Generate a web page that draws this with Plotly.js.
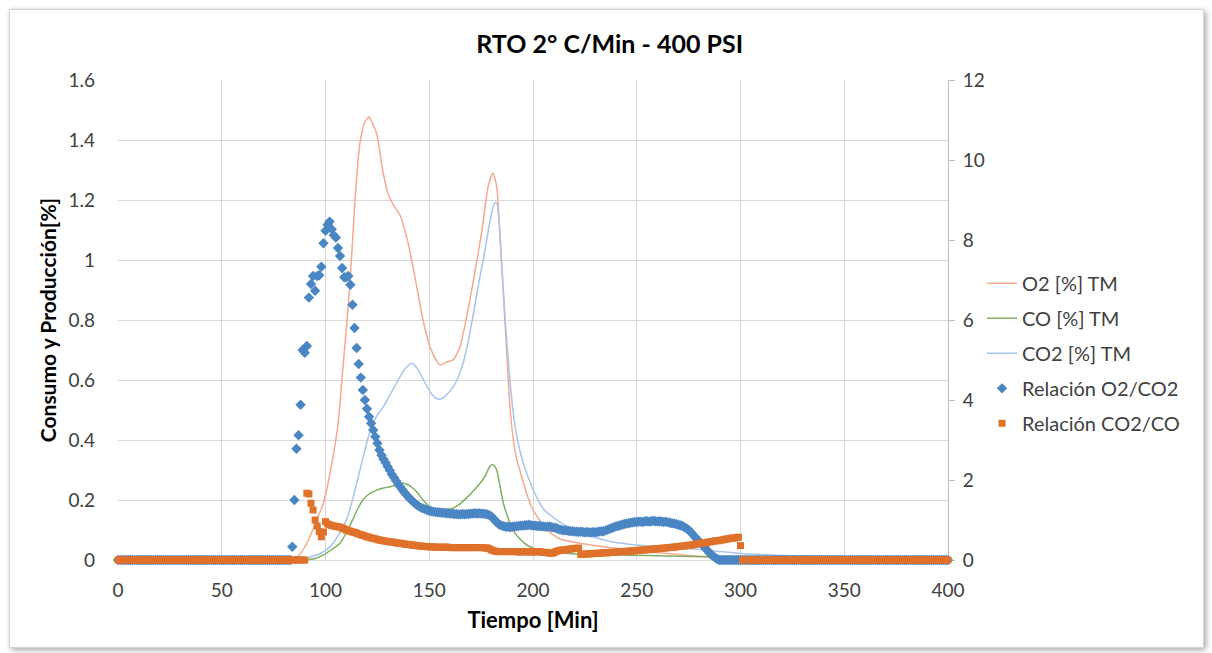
<!DOCTYPE html>
<html>
<head>
<meta charset="utf-8">
<script src="https://cdn.plot.ly/plotly-3.0.1.min.js"></script>
<style>
  html, body { margin: 0; padding: 0; background: #ffffff; }
  #frame { position: absolute; left: 9px; top: 9px; width: 1193px; height: 637px;
           border: 1px solid #d4d4d4; box-shadow: 2px 2px 6px rgba(0,0,0,0.35); background: #ffffff; }
  #chart { position: absolute; left: 0; top: 0; width: 1212px; height: 653px; }
</style>
</head>
<body>
<div id="frame"></div>
<div id="chart"></div>
<script>
// Time [Min] for the ratio series (one point per minute)
const tiempo = [
0,1,2,3,4,5,6,7,8,9,10,11,12,13,14,15,16,17,18,19,20,21,22,23,24,25,26,27,28,29,
30,31,32,33,34,35,36,37,38,39,40,41,42,43,44,45,46,47,48,49,50,51,52,53,54,55,56,57,58,59,
60,61,62,63,64,65,66,67,68,69,70,71,72,73,74,75,76,77,78,79,80,81,82,83,84,85,86,87,88,89,
90,91,92,93,94,95,96,97,98,99,100,101,102,103,104,105,106,107,108,109,110,111,112,113,114,115,116,117,118,119,
120,121,122,123,124,125,126,127,128,129,130,131,132,133,134,135,136,137,138,139,140,141,142,143,144,145,146,147,148,149,
150,151,152,153,154,155,156,157,158,159,160,161,162,163,164,165,166,167,168,169,170,171,172,173,174,175,176,177,178,179,
180,181,182,183,184,185,186,187,188,189,190,191,192,193,194,195,196,197,198,199,200,201,202,203,204,205,206,207,208,209,
210,211,212,213,214,215,216,217,218,219,220,221,222,223,224,225,226,227,228,229,230,231,232,233,234,235,236,237,238,239,
240,241,242,243,244,245,246,247,248,249,250,251,252,253,254,255,256,257,258,259,260,261,262,263,264,265,266,267,268,269,
270,271,272,273,274,275,276,277,278,279,280,281,282,283,284,285,286,287,288,289,290,291,292,293,294,295,296,297,298,299,
300,301,302,303,304,305,306,307,308,309,310,311,312,313,314,315,316,317,318,319,320,321,322,323,324,325,326,327,328,329,
330,331,332,333,334,335,336,337,338,339,340,341,342,343,344,345,346,347,348,349,350,351,352,353,354,355,356,357,358,359,
360,361,362,363,364,365,366,367,368,369,370,371,372,373,374,375,376,377,378,379,380,381,382,383,384,385,386,387,388,389,
390,391,392,393,394,395,396,397,398,399,400];

// Relación O2/CO2 (secondary axis)
const relO2CO2 = [
0,0,0,0,0,0,0,0,0,0, 0,0,0,0,0,0,0,0,0,0, 0,0,0,0,0,0,0,0,0,0, 0,0,0,0,0,0,0,0,0,0,
0,0,0,0,0,0,0,0,0,0, 0,0,0,0,0,0,0,0,0,0, 0,0,0,0,0,0,0,0,0,0, 0,0,0,0,0,0,0,0,0,0,
0,0,0,0,0.33,1.5,2.78,3.12,3.88,5.25,
5.18,5.35,6.56,6.9,7.1,6.73,7.1,7.12,7.33,7.92,
8.23,8.38,8.46,8.27,8.12,8.06,7.8,7.6,7.3,7.07,
7.07,7.1,6.88,6.38,5.8,5.3,4.9,4.56,4.25,4.0,
3.78,3.58,3.42,3.25,3.08,2.92,2.75,2.62,2.52,2.43,
2.33,2.24,2.14,2.06,1.98,1.9,1.83,1.76,1.69,1.63,
1.57,1.52,1.47,1.42,1.38,1.34,1.31,1.29,1.27,1.25,
1.23,1.22,1.21,1.2,1.19,1.19,1.18,1.18,1.17,1.17,
1.16,1.16,1.15,1.15,1.14,1.14,1.15,1.14,1.15,1.15,
1.16,1.16,1.17,1.16,1.17,1.16,1.16,1.15,1.14,1.12,
1.09,1.03,0.97,0.92,0.88,0.86,0.84,0.83,0.83,0.82,
0.83,0.84,0.84,0.85,0.86,0.86,0.87,0.87,0.88,0.87,
0.86,0.86,0.85,0.85,0.84,0.84,0.83,0.83,0.84,0.82,
0.81,0.80,0.78,0.76,0.75,0.74,0.74,0.73,0.72,0.72,
0.71,0.71,0.70,0.71,0.70,0.69,0.70,0.69,0.69,0.70,
0.69,0.70,0.71,0.72,0.72,0.74,0.76,0.78,0.80,0.82,
0.84,0.85,0.87,0.88,0.90,0.91,0.92,0.93,0.94,0.95,
0.95,0.96,0.96,0.95,0.97,0.97,0.96,0.97,0.98,0.97,
0.96,0.97,0.96,0.95,0.96,0.94,0.93,0.92,0.91,0.90,
0.88,0.87,0.85,0.82,0.79,0.75,0.70,0.64,0.58,0.52,
0.47,0.42,0.36,0.30,0.24,0.18,0.13,0.09,0.05,0.02,
0,0,0,0,0,0,0,0,0,0,
0,0,0,0,0,0,0,0,0,0, 0,0,0,0,0,0,0,0,0,0, 0,0,0,0,0,0,0,0,0,0, 0,0,0,0,0,0,0,0,0,0,
0,0,0,0,0,0,0,0,0,0, 0,0,0,0,0,0,0,0,0,0, 0,0,0,0,0,0,0,0,0,0, 0,0,0,0,0,0,0,0,0,0,
0,0,0,0,0,0,0,0,0,0, 0,0,0,0,0,0,0,0,0,0, 0];

// Relación CO2/CO (secondary axis)
const relCO2CO = [
0,0,0,0,0,0,0,0,0,0, 0,0,0,0,0,0,0,0,0,0, 0,0,0,0,0,0,0,0,0,0, 0,0,0,0,0,0,0,0,0,0,
0,0,0,0,0,0,0,0,0,0, 0,0,0,0,0,0,0,0,0,0, 0,0,0,0,0,0,0,0,0,0, 0,0,0,0,0,0,0,0,0,0,
0,0,0,0,0,0,0,0,0,0,
0,1.67,1.65,1.42,1.25,1.0,0.85,0.71,0.58,0.70,
0.96,0.90,0.88,0.86,0.85,0.84,0.83,0.82,0.80,0.78,
0.75,0.73,0.72,0.70,0.69,0.67,0.65,0.63,0.62,0.60,
0.58,0.57,0.55,0.54,0.53,0.51,0.50,0.49,0.48,0.47,
0.46,0.45,0.45,0.44,0.43,0.42,0.42,0.41,0.40,0.39,
0.39,0.38,0.37,0.37,0.36,0.35,0.35,0.34,0.34,0.33,
0.33,0.33,0.33,0.32,0.32,0.32,0.32,0.32,0.32,0.32,
0.31,0.31,0.31,0.31,0.31,0.31,0.31,0.31,0.31,0.31,
0.31,0.31,0.31,0.31,0.31,0.31,0.31,0.30,0.30,0.28,
0.25,0.23,0.22,0.21,0.21,0.21,0.21,0.21,0.21,0.21,
0.21,0.21,0.21,0.20,0.20,0.21,0.21,0.20,0.20,0.21,
0.20,0.20,0.21,0.21,0.20,0.19,0.19,0.18,0.17,0.17,
0.18,0.21,0.23,0.24,0.25,0.25,0.26,0.27,0.27,0.28,
0.29,0.29,0.30,0.14,0.14,0.15,0.15,0.15,0.16,0.16,
0.16,0.17,0.17,0.17,0.18,0.18,0.18,0.19,0.19,0.19,
0.20,0.20,0.21,0.21,0.21,0.22,0.22,0.22,0.23,0.23,
0.24,0.24,0.25,0.25,0.25,0.26,0.26,0.27,0.27,0.28,
0.28,0.29,0.29,0.30,0.30,0.31,0.31,0.32,0.32,0.33,
0.34,0.34,0.35,0.35,0.36,0.37,0.37,0.38,0.39,0.40,
0.41,0.42,0.43,0.43,0.44,0.45,0.46,0.47,0.48,0.48,
0.49,0.50,0.51,0.52,0.53,0.54,0.55,0.55,0.56,0.57,
0.36,
0,0,0,0,0,0,0,0,0,0, 0,0,0,0,0,0,0,0,0,0, 0,0,0,0,0,0,0,0,0,0, 0,0,0,0,0,0,0,0,0,0,
0,0,0,0,0,0,0,0,0,0, 0,0,0,0,0,0,0,0,0,0, 0,0,0,0,0,0,0,0,0,0, 0,0,0,0,0,0,0,0,0,0,
0,0,0,0,0,0,0,0,0,0, 0,0,0,0,0,0,0,0,0,0];

// O2 [%] TM
const tO2 = [0,80,85,88,92,95,99,103,106,108.4,111.8,114.2,116.6,119,121,123,124.7,127.8,130.2,133,135.9,139.8,144,147,150.4,153,155.2,158.4,161.5,164.8,168,171,175.2,178.4,180.6,182.5,184.9,187.3,188.5,190,192,194,197,200,206.7,213,222.6,238.7,254.8,270,280,290,300];
const o2 = [0,0,0.005,0.022,0.07,0.12,0.19,0.32,0.45,0.64,0.92,1.2,1.39,1.46,1.477,1.45,1.42,1.29,1.22,1.18,1.15,1.057,0.91,0.80,0.71,0.67,0.65,0.66,0.667,0.71,0.81,0.92,1.09,1.245,1.29,1.245,0.98,0.70,0.55,0.43,0.34,0.29,0.22,0.167,0.10,0.07,0.056,0.04,0.028,0.018,0.012,0.004,0.002];

// CO [%] TM
const tCO = [0,90,95,99,103,107,110,113,115.5,118,121,124.7,128,131,134,137.4,140,142,144,147,150.4,153,155.2,158,161.5,165,168,171,174.5,177,179,180,181,182.5,184,185.7,188,190.4,193,197,201,206.7,220,238.6,260,280,300];
const co = [0,0,0.005,0.017,0.035,0.056,0.09,0.133,0.17,0.2,0.22,0.233,0.24,0.244,0.25,0.256,0.25,0.24,0.227,0.2,0.177,0.168,0.167,0.168,0.173,0.188,0.207,0.228,0.256,0.28,0.31,0.317,0.316,0.30,0.25,0.19,0.14,0.10,0.075,0.05,0.037,0.028,0.02,0.017,0.014,0.012,0.012];

// CO2 [%] TM
const tCO2 = [0,88,92.5,97,102,106,110,113,116.6,119.5,122.3,124.7,127.8,131,134.3,138,141.5,143.5,145.5,148,150.4,153,155.2,158,161.5,164,166.3,168.5,171,173.5,176,178,180,181.5,182.5,184,186.5,188.5,190.5,192.5,195,198,201,205,211.6,217,222.6,230,238.6,250,262.7,280.5,290,300,320,340,357,360];
const co2 = [0,0,0.01,0.02,0.043,0.08,0.133,0.2,0.30,0.38,0.45,0.48,0.51,0.55,0.59,0.635,0.656,0.645,0.623,0.59,0.56,0.54,0.536,0.548,0.577,0.61,0.656,0.72,0.81,0.91,1.0,1.08,1.155,1.19,1.19,1.09,0.81,0.63,0.49,0.40,0.33,0.27,0.22,0.17,0.133,0.11,0.09,0.075,0.06,0.05,0.043,0.035,0.028,0.022,0.015,0.012,0.01,0.008];

const FONT = 'Lato, "Open Sans", sans-serif';

const traces = [
  { x: tO2, y: o2, name: 'O2 [%] TM', type: 'scatter', mode: 'lines', line: { color: '#f7a98c', width: 1.5, shape: 'spline', smoothing: 0.6 }, legendgroup: 'a' },
  { x: tCO, y: co, name: 'CO [%] TM', type: 'scatter', mode: 'lines', line: { color: '#7fb062', width: 1.5, shape: 'spline', smoothing: 0.6 }, legendgroup: 'b' },
  { x: tCO2, y: co2, name: 'CO2 [%] TM', type: 'scatter', mode: 'lines', line: { color: '#a9c5ec', width: 1.5, shape: 'spline', smoothing: 0.6 }, legendgroup: 'c' },
  { x: tiempo, y: relO2CO2, name: 'Relación O2/CO2', type: 'scatter', mode: 'markers', yaxis: 'y2', cliponaxis: false,
    marker: { symbol: 'diamond', size: 8, color: '#4a86c3', line: { width: 0 } }, legendgroup: 'd' },
  { x: tiempo, y: relCO2CO, name: 'Relación CO2/CO', type: 'scatter', mode: 'markers', yaxis: 'y2', cliponaxis: false,
    marker: { symbol: 'square', size: 7, color: '#e0712a', line: { width: 0 } }, legendgroup: 'e' }
];

const layout = {
  width: 1212, height: 653,
  paper_bgcolor: 'rgba(0,0,0,0)', plot_bgcolor: 'rgba(0,0,0,0)',
  margin: { l: 118, r: 264, t: 80, b: 93 },
  font: { family: FONT, size: 19, color: '#404040' },
  title: { text: 'RTO 2° C/Min - 400 PSI', font: { family: FONT, size: 25, color: '#000000', weight: 'bold' },
           x: 0.503, xref: 'container', xanchor: 'center', y: 0.933, yref: 'container', yanchor: 'middle' },
  xaxis: {
    range: [0, 400], dtick: 50, tick0: 0, showgrid: true, gridcolor: '#d9d9d9', gridwidth: 1,
    zeroline: false, showline: true, linecolor: '#d9d9d9', layer: 'below traces', ticks: '', ticklabelstandoff: 13,
    tickfont: { family: FONT, size: 19, color: '#404040' },
    title: { text: 'Tiempo [Min]', font: { family: FONT, size: 22, color: '#000000', weight: 'bold' }, standoff: 12 }
  },
  yaxis: {
    range: [0, 1.6], dtick: 0.2, tick0: 0, showgrid: true, gridcolor: '#d9d9d9', gridwidth: 1,
    zeroline: false, showline: false, layer: 'below traces', ticks: '', ticklabelstandoff: 22,
    tickfont: { family: FONT, size: 19, color: '#404040' },
    title: { text: 'Consumo y Producción[%]', font: { family: FONT, size: 21, color: '#000000', weight: 'bold' }, standoff: 6 }
  },
  yaxis2: {
    overlaying: 'y', side: 'right', range: [0, 12], dtick: 2, tick0: 0, showgrid: false, zeroline: false,
    showline: true, linecolor: '#bfbfbf', layer: 'below traces', ticks: 'outside', ticklen: 6, tickcolor: '#bfbfbf', ticklabelstandoff: 4,
    tickfont: { family: FONT, size: 19, color: '#404040' }
  },
  legend: {
    x: 1.041, xanchor: 'left', y: 0.617, yanchor: 'top', bgcolor: 'rgba(0,0,0,0)',
    font: { family: FONT, size: 20, color: '#404040' }, itemwidth: 30, tracegroupgap: 6, traceorder: 'grouped'
  },
  showlegend: true
};

Plotly.newPlot('chart', traces, layout, { displayModeBar: false, staticPlot: true });
</script>
</body>
</html>
